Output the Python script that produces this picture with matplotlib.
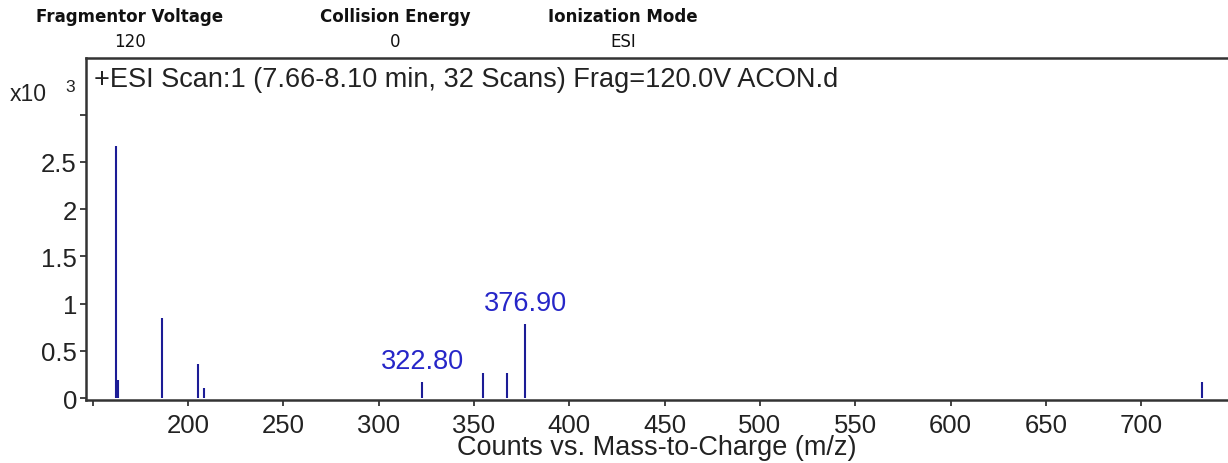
import matplotlib.pyplot as plt

# peak list (m/z, counts x10^3)
mz = [162.0, 163.2, 186.6, 205.0, 208.3, 322.8, 354.7, 367.3, 376.9, 732.0]
counts = [2.67, 0.19, 0.85, 0.36, 0.11, 0.17, 0.27, 0.27, 0.78, 0.17]
labelled_mz = [322.8, 376.9]
labelled_counts = [0.17, 0.78]
labelled_text = ["322.80", "376.90"]

header_names = ["Fragmentor Voltage", "Collision Energy", "Ionization Mode"]
header_values = ["120", "0", "ESI"]
header_x = [130, 395, 623]  # pixel centres

yticks = [0, 0.5, 1, 1.5, 2, 2.5, 3]
ytick_labels = ["0", "0.5", "1", "1.5", "2", "2.5", ""]
xticks = [150, 200, 250, 300, 350, 400, 450, 500, 550, 600, 650, 700]
xtick_labels = [""] + [str(t) for t in xticks[1:]]

plt.rcParams['font.family'] = ['Liberation Sans', 'DejaVu Sans']

W, H = 1228, 464
fig = plt.figure(figsize=(W / 100, H / 100), dpi=100)
ax = fig.add_axes([86 / W, 1 - 401 / H, 1 - 86 / W, (401 - 59) / H])

ax.vlines(mz, 0, counts, color="#1c1c96", linewidth=1.5)
for x, y, t in zip(labelled_mz, labelled_counts, labelled_text):
    ax.annotate(t, (x, y), xytext=(0, 6), textcoords="offset points",
                ha="center", va="bottom", color="#2626c8", fontsize=19.5)

ax.set_xlim(146.5, 745.5)
ax.set_ylim(-0.02, 3.6)
ax.set_xticks(xticks)
ax.set_xticklabels(xtick_labels)
ax.set_yticks(yticks)
ax.set_yticklabels(ytick_labels)
ax.tick_params(axis="both", direction="out", length=4.5, width=1.2, colors="#222222",
               labelsize=18.5, pad=2)
ax.tick_params(axis="x", pad=5)
ax.set_xlabel("Counts vs. Mass-to-Charge (m/z)", fontsize=19.5, color="#222222", labelpad=-2.5)

for side in ["left", "bottom", "top"]:
    ax.spines[side].set_linewidth(1.8)
    ax.spines[side].set_color("#333333")
ax.spines["right"].set_visible(False)

ax.text(9 / W, 1 - 8 / 342, "+ESI Scan:1 (7.66-8.10 min, 32 Scans) Frag=120.0V ACON.d",
        transform=ax.transAxes, ha="left", va="top", fontsize=19.5, color="#222222")

fig.text(10 / W, 1 - 101 / H, "x10", fontsize=16.5, color="#222222", ha="left", va="baseline")
fig.text(65 / W, 1 - 92 / H, "3", fontsize=12.5, color="#222222", ha="left", va="baseline")

for name, val, x in zip(header_names, header_values, header_x):
    fig.text(x / W, 1 - 22 / H, name, fontsize=12, fontweight="bold",
             family="DejaVu Sans", ha="center", va="baseline", color="#111111")
    fig.text(x / W, 1 - 47 / H, val, fontsize=12, family="DejaVu Sans",
             ha="center", va="baseline", color="#111111")

fig.savefig("out.png", dpi=100)
